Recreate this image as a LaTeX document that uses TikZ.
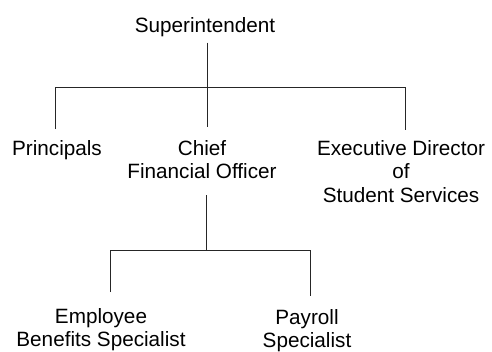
\documentclass[tikz,border=0pt]{standalone}
\usepackage{fontspec}
\setmainfont{Liberation Sans}
\usetikzlibrary{calc}
\begin{document}
\begin{tikzpicture}[x=1pt,y=-1pt,
  lbl/.style={inner sep=0pt,anchor=north,align=center,font=\fontsize{20.7}{23.5}\selectfont},
  conn/.style={line width=0.9pt,draw=black!85}]
\useasboundingbox[fill=white] (0,0) rectangle (492,351);
% nodes
\node[lbl] (sup) at (205,17) {Superintendent};
\node[lbl] (pr)  at (57,140) {Principals};
\node[lbl] (cfo) at (202,140) {Chief\\Financial Officer};
\node[lbl] (eds) at (401,140) {Executive Director\\of\\Student Services};
\node[lbl] (ebs) at (101,308) {Employee\\Benefits Specialist};
\node[lbl] (pay) at (307,309) {Payroll\\Specialist};
% bus coordinates
\coordinate (b1) at (207,87);
\coordinate (bL) at (55,87);
\coordinate (bR) at (405,87);
\coordinate (b2) at (206,250);
\coordinate (cL) at (110,250);
\coordinate (cR) at (310,250);
% connectors level 1
\draw[conn] ($(sup.south -| b1)+(0,6)$) -- ($(cfo.north -| b1)+(0,-13)$);
\draw[conn] ($(bL |- pr.north)+(0,-11)$) -- (bL) -- (bR) -- ($(bR |- eds.north)+(0,-10)$);
% connectors level 2
\draw[conn] ($(cfo.south -| b2)+(0,16)$) -- (b2);
\draw[conn] ($(cL |- ebs.north)+(0,-16)$) -- (cL) -- (cR) -- ($(cR |- pay.north)+(0,-13)$);
\end{tikzpicture}
\end{document}
